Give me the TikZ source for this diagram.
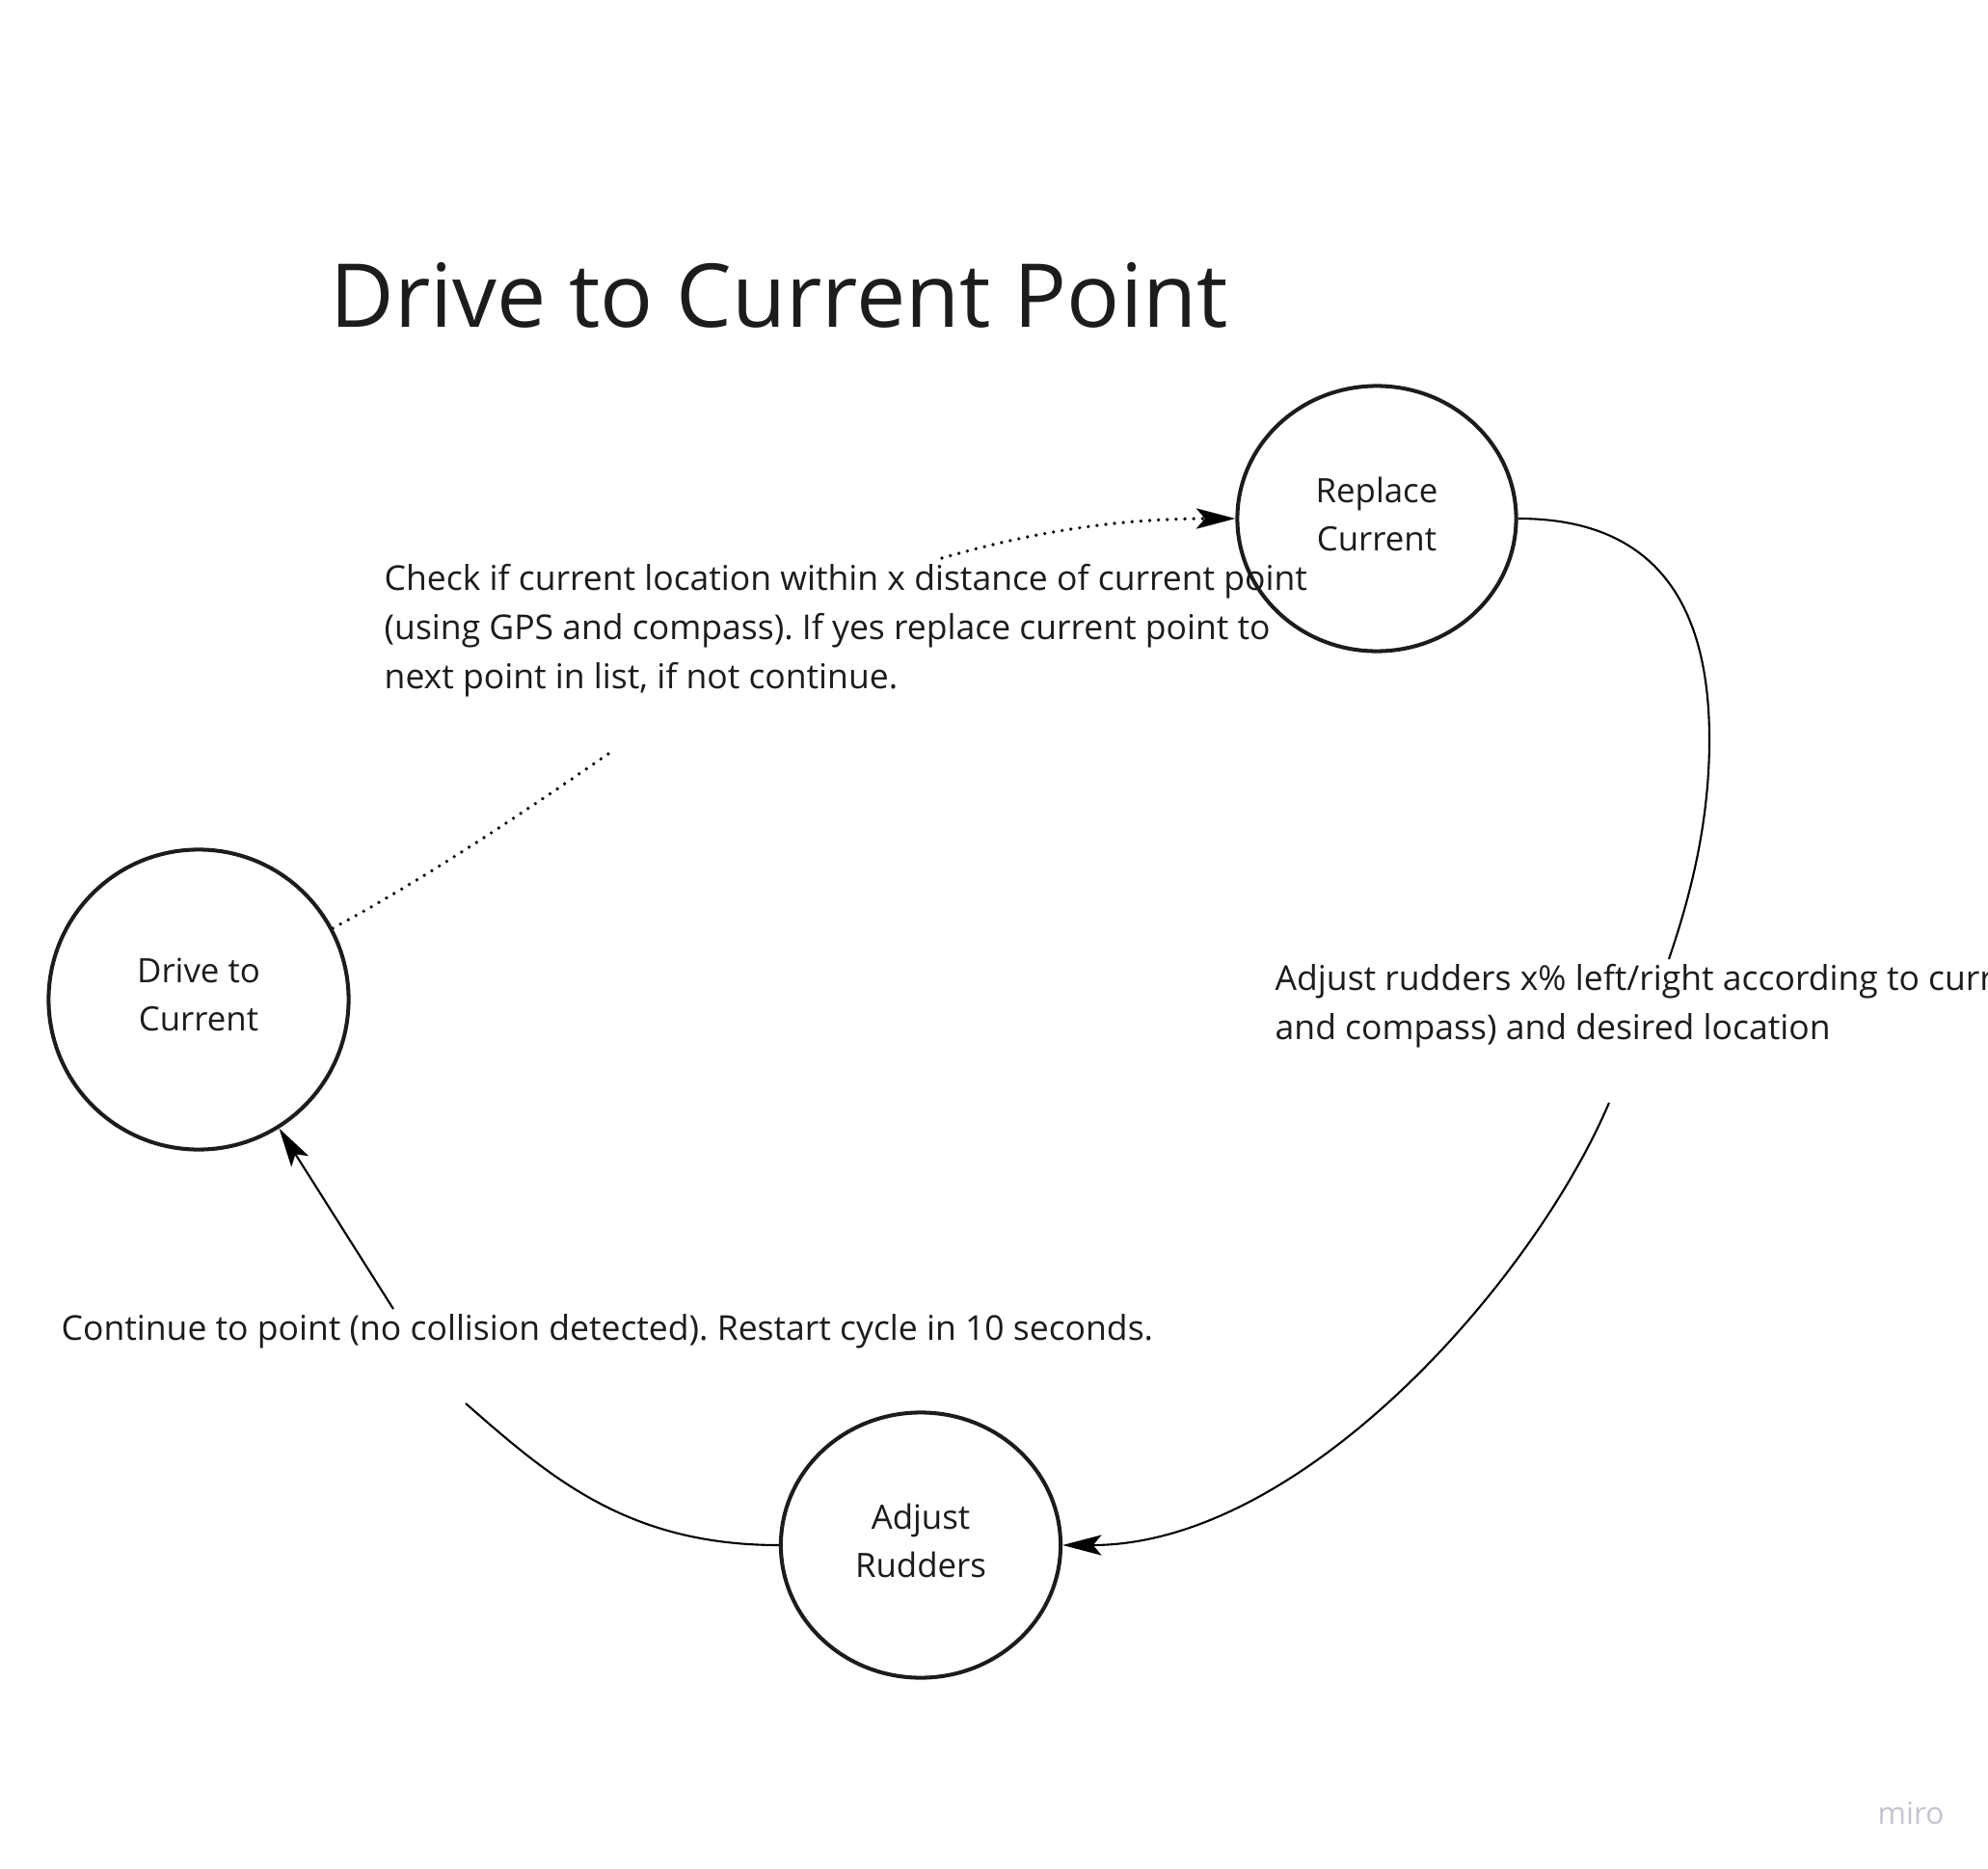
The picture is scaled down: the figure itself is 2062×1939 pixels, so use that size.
\documentclass[tikz,border=0pt]{standalone}
\usepackage{fontspec}
\setmainfont{Open Sans}
\usetikzlibrary{arrows.meta,shapes.geometric}
\definecolor{ink}{HTML}{1C1C1C}
\definecolor{mirogray}{HTML}{C3C4D2}
\frenchspacing
\newcommand{\lowpad}{\rule[-2.9pt]{0pt}{2.9pt}}
\begin{document}
\begin{tikzpicture}[x=0.01cm,y=-0.01cm,
  state/.style={draw=ink,line width=1.15pt,ellipse,inner sep=0pt,align=center,text=ink,font=\fontsize{9.9}{14.2}\selectfont},
  lbl/.style={inner sep=0pt,align=left,anchor=north west,text=ink,font=\fontsize{10.1}{14.5}\selectfont},
  conn/.style={line width=0.6pt,draw=black},
  dots/.style={line width=1.05pt,line cap=round,dash pattern=on 0pt off 2.6pt},
  tip/.style={-{Stealth[length=11.5pt,width=6pt,inset=2.5pt]}}
]
\clip (0,0) rectangle (2062,1939);
\fill[white] (0,0) rectangle (2062,1939);

\node[anchor=base west,inner sep=0pt,text=ink,font=\fontsize{26}{31}\selectfont] (title) at (342,339) {Drive to Current Point};

\node[state,minimum width=2.89cm,minimum height=2.75cm] (rc) at (1428,538) {Replace\\Current\lowpad};
\node[state,minimum width=3.11cm,minimum height=3.11cm] (dc) at (206,1037) {Drive to\\Current\lowpad};
\node[state,minimum width=2.90cm,minimum height=2.75cm] (ar) at (955,1603) {Adjust\\Rudders\lowpad};

\coordinate (ga) at (631,782);
\coordinate (gb) at (977,579);
\coordinate (gc) at (1731,995);
\coordinate (gd) at (1669,1144);
\coordinate (ge) at (483,1456);
\coordinate (gf) at (408,1358);

\draw[conn,dots] (dc.28) .. controls (440,912) and (540,845) .. (ga);
\draw[conn,dots,tip] (gb) .. controls (1060,555) and (1150,538) .. (rc.west);

\draw[conn] (rc.east) .. controls (1720,538) and (1773,630) .. (1773,767) .. controls (1773,850) and (1755,925) .. (gc);
\draw[conn,tip] (gd) .. controls (1590,1330) and (1350,1603) .. (ar.east);

\draw[conn] (ar.west) .. controls (650,1603) and (570,1532) .. (ge);
\draw[conn,tip] (gf) -- (dc.-58);

\node[lbl] (checklbl) at (398,585) {Check if current location within x distance of current point\\(using GPS and compass). If yes replace current point to\\next point in list, if not continue.};
\node[lbl] (adjlbl) at (1322,1000) {Adjust rudders x\% left/right according to curr\\and compass) and desired location};
\node[lbl] (contlbl) at (63,1363) {Continue to point (no collision detected). Restart cycle in 10 seconds.};

\node[anchor=base west,inner sep=0pt,text=mirogray,font=\fontsize{9}{11}\selectfont] (miro) at (1947,1892) {miro};
\end{tikzpicture}
\end{document}
